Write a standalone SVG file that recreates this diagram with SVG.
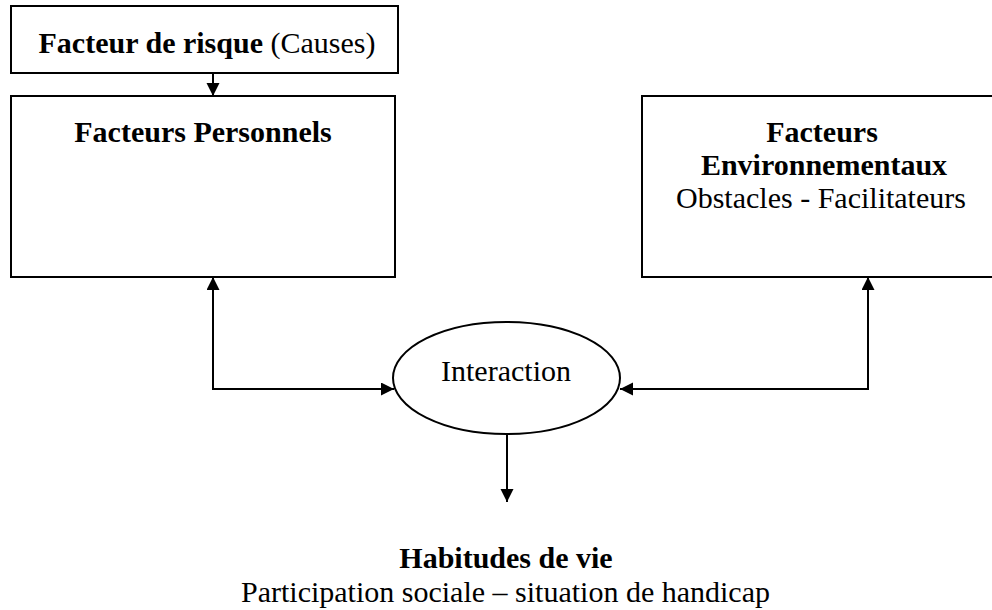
<svg xmlns="http://www.w3.org/2000/svg" width="992" height="610" viewBox="0 0 992 610">
  <defs>
    <style>
      .box { fill: #fff; stroke: #000; stroke-width: 2; }
      .t { font-family: "Liberation Serif", "Times New Roman", serif; font-size: 30px; fill: #000; text-anchor: middle; }
      .b { font-weight: bold; }
      .n { font-weight: normal; }
      .c { fill: none; stroke: #000; stroke-width: 2; }
    </style>
    <marker id="ah" markerUnits="userSpaceOnUse" markerWidth="14" markerHeight="14" refX="13" refY="6.5" orient="auto-start-reverse">
      <path d="M0,0 L13,6.5 L0,13 z" fill="#000"/>
    </marker>
  </defs>
  <rect width="992" height="610" fill="#fff"/>

  <g id="facteur-risque">
    <rect class="box" x="11" y="6" width="387" height="67"/>
    <text class="t" x="207" y="53"><tspan class="b">Facteur de risque</tspan> (Causes)</text>
  </g>

  <g id="facteurs-personnels">
    <rect class="box" x="11" y="96" width="384" height="181"/>
    <text class="t b" x="203" y="142">Facteurs Personnels</text>
  </g>

  <g id="facteurs-environnementaux">
    <rect class="box" x="642" y="96" width="360" height="181"/>
    <text class="t b" x="822" y="142">Facteurs</text>
    <text class="t b" x="824" y="175">Environnementaux</text>
    <text class="t" x="821" y="208">Obstacles - Facilitateurs</text>
  </g>

  <g id="interaction">
    <ellipse class="box" cx="506.5" cy="378" rx="113.5" ry="56"/>
    <text class="t" x="506" y="381">Interaction</text>
  </g>

  <g id="habitudes-de-vie">
    <text class="t b" x="506" y="568">Habitudes de vie</text>
    <text class="t" x="505.5" y="602">Participation sociale – situation de handicap</text>
  </g>

  <g id="connectors">
    <path class="c" d="M213,74 V96" marker-end="url(#ah)"/>
    <path class="c" d="M394,389 H213 V277" marker-start="url(#ah)" marker-end="url(#ah)"/>
    <path class="c" d="M620,389 H868 V277" marker-start="url(#ah)" marker-end="url(#ah)"/>
    <path class="c" d="M507,434 V502" marker-end="url(#ah)"/>
  </g>
</svg>
